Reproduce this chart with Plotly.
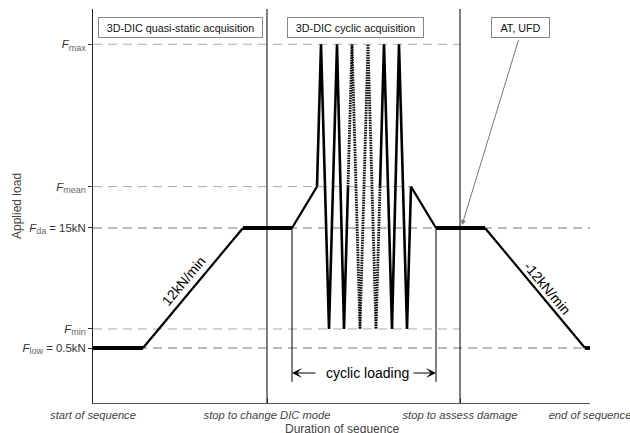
import plotly.graph_objects as go

# ---------------- data ----------------
# load levels (kN-like units)
F_low, F_min, F_da, F_mean, F_max = 0.5, 2.8, 15.0, 20.0, 37.2
level_vals = [F_low, F_min, F_da, F_mean, F_max]
SUB = "<sub><span style='color:#666;font-size:9px'>{}</span></sub>"
level_text = [
    "<i>F</i>" + SUB.format("low") + " = 0.5kN",
    "<i>F</i>" + SUB.format("min"),
    "<i>F</i>" + SUB.format("da") + " = 15kN",
    "<i>F</i>" + SUB.format("mean"),
    "<i>F</i>" + SUB.format("max"),
]
# extent (time) of each dashed reference line
level_end = [492, 367, 497, 319, 367]
level_color = ["#777", "#aaa", "#777", "#aaa", "#aaa"]

# sequence time markers
event_x = [0, 174, 367, 497]
event_text = ["start of sequence", "stop to change DIC mode",
              "stop to assess damage", "end of sequence"]

# holds (thick)
hold_x = [0, 50, None, 150, 199, None, 343, 392, None, 492, 497]
hold_y = [F_low, F_low, None, F_da, F_da, None, F_da, F_da, None, F_low, F_low]
# ramps
ramp_x = [50, 150, None, 199, 224, None, 318, 343, None, 392, 492]
ramp_y = [F_low, F_da, None, F_da, F_mean, None, F_mean, F_da, None, F_da, F_low]
# cyclic loading (recorded part, solid)
cyc_x = [224, 228, 236, 244, 251, 255, None, 287, 291, 299, 306, 314, 318]
cyc_y = [F_mean, F_max, F_min, F_max, F_min, F_mean, None,
         F_mean, F_max, F_min, F_max, F_min, F_mean]
# cyclic loading (omitted cycles, dotted)
dot_x = [255, 259, 267, 275, 283, 287]
dot_y = [F_mean, F_max, F_min, F_max, F_min, F_mean]

# cyclic-loading bracket
bracket_x = [199, 343]
bracket_bottom = -3.6
bracket_arrow_y = -2.52

FONT = "Liberation Sans, Arial, Helvetica, sans-serif"

fig = go.Figure()

# dashed reference lines
for v, e, c in zip(level_vals, level_end, level_color):
    fig.add_trace(go.Scatter(x=[0, e], y=[v, v], mode="lines",
                             line=dict(color=c, width=1, dash="9px,6px"),
                             hoverinfo="skip", showlegend=False))

# vertical event lines
for xv in event_x[1:3]:
    fig.add_shape(type="line", x0=xv, x1=xv, y0=0, y1=1, yref="paper",
                  line=dict(color="black", width=1))

# bracket verticals
for xv in bracket_x:
    fig.add_trace(go.Scatter(x=[xv, xv], y=[F_da, bracket_bottom], mode="lines",
                             line=dict(color="black", width=1),
                             hoverinfo="skip", showlegend=False))

fig.add_trace(go.Scatter(x=ramp_x, y=ramp_y, mode="lines",
                         line=dict(color="black", width=2.2), showlegend=False))
fig.add_trace(go.Scatter(x=cyc_x, y=cyc_y, mode="lines",
                         line=dict(color="black", width=2.6), showlegend=False))
fig.add_trace(go.Scatter(x=dot_x, y=dot_y, mode="lines",
                         line=dict(color="black", width=2.8, dash="1.5px,1px"),
                         showlegend=False))
fig.add_trace(go.Scatter(x=hold_x, y=hold_y, mode="lines",
                         line=dict(color="black", width=3.8), showlegend=False))

# boxes
box_common = dict(yref="y", showarrow=False, bordercolor="#888", borderwidth=1,
                  borderpad=3, bgcolor="white", height=13,
                  font=dict(family=FONT, size=10.8, color="#111"))
fig.add_annotation(x=87.5, y=39.23, text="3D-DIC quasi-static acquisition",
                   width=157, **box_common)
fig.add_annotation(x=262.5, y=39.23, text="3D-DIC cyclic acquisition",
                   width=129, **box_common)
fig.add_annotation(x=427.5, y=39.23, text="AT, UFD", width=51, **box_common)

# AT, UFD pointer
fig.add_annotation(x=369, y=15.35, ax=426, ay=37.9, axref="x", ayref="y",
                   text="", showarrow=True, arrowhead=2, arrowsize=1,
                   arrowwidth=1, arrowcolor="#777", standoff=0)

# cyclic loading
fig.add_annotation(x=274, y=bracket_arrow_y, text="cyclic loading", showarrow=False,
                   font=dict(family=FONT, size=14, color="black"))
fig.add_annotation(x=bracket_x[0], y=bracket_arrow_y, ax=224, ay=bracket_arrow_y,
                   axref="x", ayref="y", text="", showarrow=True, arrowhead=3,
                   arrowsize=1.4, arrowwidth=1.2, arrowcolor="black", standoff=0)
fig.add_annotation(x=bracket_x[1], y=bracket_arrow_y, ax=319, ay=bracket_arrow_y,
                   axref="x", ayref="y", text="", showarrow=True, arrowhead=3,
                   arrowsize=1.4, arrowwidth=1.2, arrowcolor="black", standoff=0)

# rate labels
fig.add_annotation(x=90.5, y=8.6, text="12kN/min", textangle=-50, showarrow=False,
                   font=dict(family=FONT, size=14, color="black"))
fig.add_annotation(x=454.5, y=7.8, text="-12kN/min", textangle=50, showarrow=False,
                   font=dict(family=FONT, size=14, color="black"))

# axis titles
fig.add_annotation(xref="paper", yref="paper", x=(17 - 93) / 497, y=0.5,
                   text="Applied load", textangle=-90, showarrow=False,
                   xanchor="center", yanchor="middle",
                   font=dict(family=FONT, size=12, color="#444"))
fig.add_annotation(xref="paper", yref="paper", x=0.5, y=(403 - 429) / 394,
                   text="Duration of sequence", showarrow=False,
                   xanchor="center", yanchor="middle",
                   font=dict(family=FONT, size=12, color="#444"))

fig.update_layout(
    width=630, height=433,
    margin=dict(l=93, r=40, t=9, b=30, autoexpand=False),
    plot_bgcolor="white", paper_bgcolor="white",
    font=dict(family=FONT),
    xaxis=dict(range=[0, 497], showgrid=False, zeroline=False, showline=True,
               automargin=False,
               linecolor="#555", linewidth=1, ticks="inside", ticklen=5,
               tickcolor="#555", tickvals=event_x, ticktext=event_text,
               ticklabeloverflow="allow", ticklabelstandoff=2,
               tickfont=dict(family=FONT, size=11.2, color="#444", style="italic")),
    yaxis=dict(range=[-6.146, 41.46], showgrid=False, zeroline=False, showline=True,
               automargin=False,
               linecolor="#222", linewidth=1, ticks="outside", ticklen=4,
               tickcolor="#333", tickvals=level_vals, ticktext=level_text,
               tickfont=dict(family=FONT, size=11.4, color="#333")),
)

fig.write_html("out.html")
